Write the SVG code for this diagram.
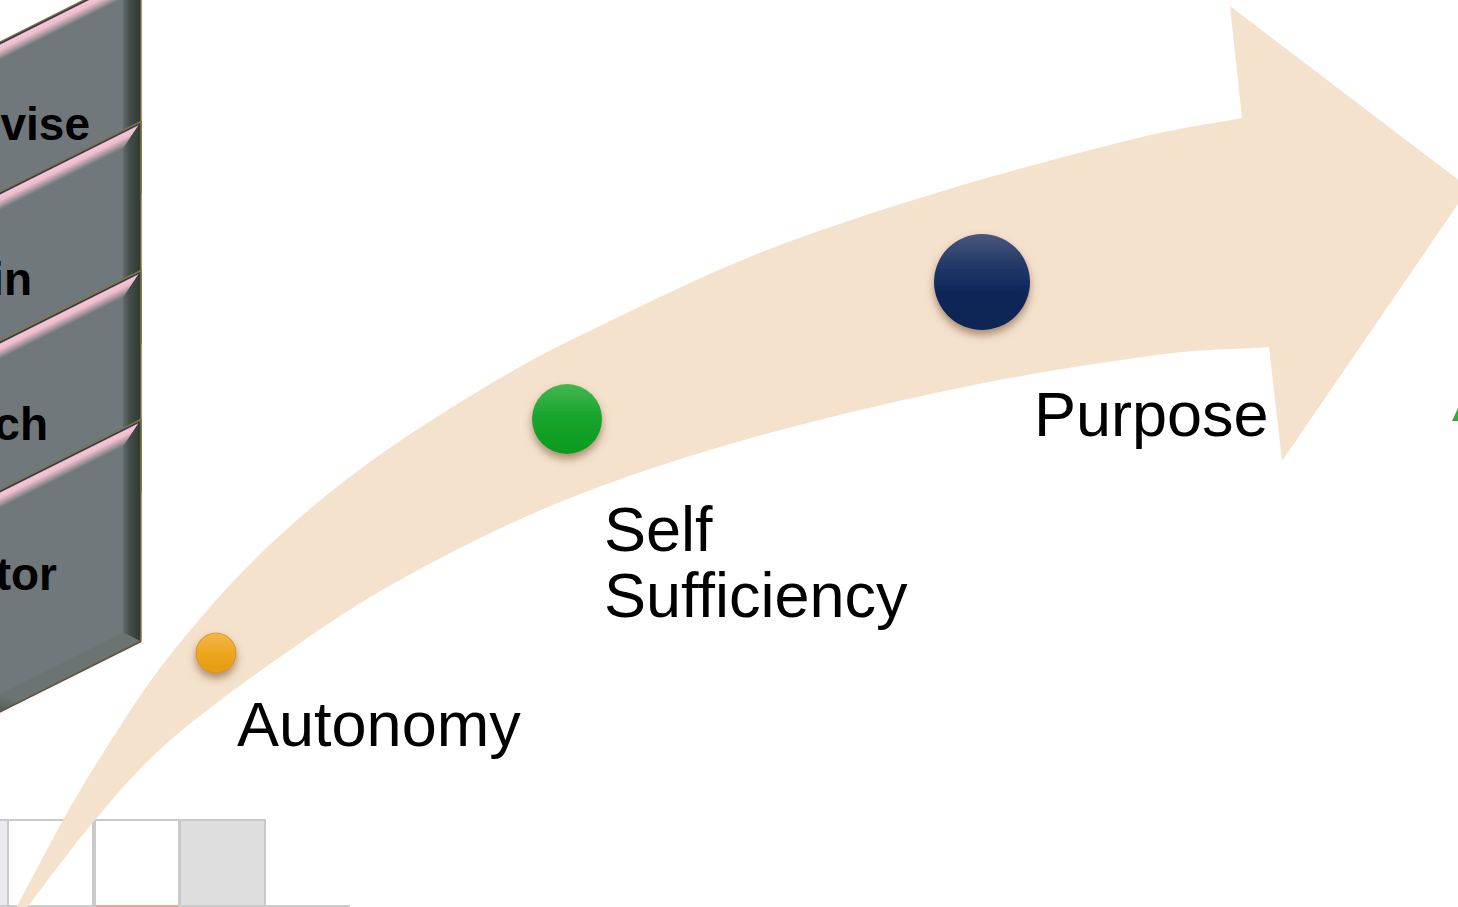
<svg xmlns="http://www.w3.org/2000/svg" width="1458" height="907" viewBox="0 0 1458 907">
  <defs>
    <style>
      .panel-label { font-family: "Liberation Sans", Arial, sans-serif; font-weight: bold; font-size: 46px; fill: #000; text-anchor: end; }
      .stage-label { font-family: "Liberation Sans", Arial, sans-serif; font-size: 63px; fill: #000; }
      .cell { stroke: #c9c9c9; stroke-width: 2; }
      .edge { fill: none; stroke: #86723f; stroke-width: 1.5; }
    </style>
    <!-- bevel shading for the slanted panels (local panel coordinates) -->
    <linearGradient id="bevelTop" gradientUnits="userSpaceOnUse" x1="0" y1="0" x2="7.2" y2="14.4">
      <stop offset="0" stop-color="#2b3553"/>
      <stop offset="0.1" stop-color="#2b3553"/>
      <stop offset="0.18" stop-color="#f7c4d4"/>
      <stop offset="0.45" stop-color="#efbccb"/>
      <stop offset="0.8" stop-color="#9c9399"/>
      <stop offset="1" stop-color="#71787c"/>
    </linearGradient>
    <linearGradient id="bevelRight" gradientUnits="userSpaceOnUse" x1="122" y1="0" x2="141" y2="0">
      <stop offset="0" stop-color="#667074"/>
      <stop offset="0.4" stop-color="#434e4a"/>
      <stop offset="1" stop-color="#2e3833"/>
    </linearGradient>
    <linearGradient id="bevelBottom" gradientUnits="userSpaceOnUse" x1="0" y1="204" x2="-7.2" y2="222">
      <stop offset="0" stop-color="#6a7472"/>
      <stop offset="1" stop-color="#4c5950"/>
    </linearGradient>
    <linearGradient id="navyFill" x1="0" y1="0" x2="0" y2="1">
      <stop offset="0" stop-color="#48577b"/>
      <stop offset="0.35" stop-color="#213767"/>
      <stop offset="0.6" stop-color="#0d2859"/>
      <stop offset="1" stop-color="#0a2555"/>
    </linearGradient>
    <linearGradient id="greenFill" x1="0" y1="0" x2="0" y2="1">
      <stop offset="0" stop-color="#46b552"/>
      <stop offset="0.45" stop-color="#19a52e"/>
      <stop offset="1" stop-color="#089a1e"/>
    </linearGradient>
    <linearGradient id="orangeFill" x1="0" y1="0" x2="0" y2="1">
      <stop offset="0" stop-color="#f2b64a"/>
      <stop offset="0.5" stop-color="#eea61e"/>
      <stop offset="1" stop-color="#e49b12"/>
    </linearGradient>
    <filter id="dotShadow" x="-40%" y="-40%" width="180%" height="190%">
      <feDropShadow dx="0" dy="5" stdDeviation="4" flood-color="#6b4526" flood-opacity="0.55"/>
    </filter>
    <!-- one slanted bevelled panel; top edge runs y = -0.5x -->
    <g id="panelShape">
      <polygon points="-400,200 141,-70.5 141,151.5 -400,422" fill="#71787c"/>
      <polygon points="-400,200 141,-70.5 123,-43.5 -400,218" fill="url(#bevelTop)"/>
      <polygon points="123,-43.5 141,-70.5 141,151.5 123,142.5" fill="url(#bevelRight)"/>
      <polygon points="-400,422 141,151.5 123,142.5 -400,404" fill="url(#bevelBottom)"/>
      <polyline class="edge" points="-400,200 141,-70.5 141,151.5"/>
      <line x1="-400" y1="422" x2="141" y2="151.5" stroke="#5e5432" stroke-width="1.5"/>
    </g>
  </defs>

  <rect width="1458" height="907" fill="#ffffff"/>

  <!-- stacked panels, each one overlapping the lower part of the one above -->
  <g id="panels">
    <g id="panel-1"><use href="#panelShape" transform="translate(0,42)"/><text class="panel-label" x="90" y="140">vise</text></g>
    <g id="panel-2"><use href="#panelShape" transform="translate(0,192)"/><text class="panel-label" x="32" y="295">in</text></g>
    <g id="panel-3"><use href="#panelShape" transform="translate(0,341)"/><text class="panel-label" x="48" y="440">ch</text></g>
    <g id="panel-4"><use href="#panelShape" transform="translate(0,490)"/><text class="panel-label" x="57" y="590">tor</text></g>
  </g>

  <!-- row of cells along the bottom -->
  <g id="cells">
    <rect class="cell" x="-4" y="820" width="12" height="90" fill="#e9ebee"/>
    <rect class="cell" x="8" y="820" width="85" height="90" fill="#ffffff"/>
    <rect class="cell" x="95" y="820" width="84" height="90" fill="#ffffff"/>
    <rect class="cell" x="180" y="820" width="85" height="90" fill="#dedede"/>
    <line x1="0" y1="906" x2="350" y2="906" stroke="#cccccc" stroke-width="2"/>
    <line x1="96" y1="906" x2="178" y2="906" stroke="#e6a898" stroke-width="2"/>
  </g>

  <!-- curved progress arrow -->
  <g id="connectors">
    <path id="progress-arrow" fill="#f5e2cd" d="M15,910
      C30.7,880.7 47,848.7 62,822
      C77,795.3 87.5,777.2 105,750
      C122.5,722.8 141.7,691.2 167,659
      C192.3,626.8 224.3,589 257,557
      C289.7,525 323,496.5 363,467
      C403,437.5 456.5,404 497,380
      C537.5,356 561.8,344.3 606,323
      C650.2,301.7 705.3,274.2 762,252
      C818.7,229.8 883.3,209 946,190
      C1008.7,171 1088.7,150 1138,138
      C1187.3,126 1207.3,124.7 1242,118
      L1230,6 L1469,188 L1282,461 L1269,347
      C1231.7,349.7 1207.8,348.3 1157,355
      C1106.2,361.7 1032.8,372.8 964,387
      C895.2,401.2 811.3,420.8 744,440
      C676.7,459.2 617.3,478.7 560,502
      C502.7,525.3 446.7,554.2 400,580
      C353.3,605.8 318.8,629.8 280,657
      C241.2,684.2 197.8,715.8 167,743
      C136.2,770.2 118.7,792.2 95,820
      C71.3,847.8 48.3,880 25,910 Z"/>
  </g>

  <g id="node-autonomy">
    <circle cx="216" cy="653" r="20" fill="url(#orangeFill)" stroke="#cf8f1c" stroke-width="0.8" filter="url(#dotShadow)"/>
    <text class="stage-label" x="237" y="746">Autonomy</text>
  </g>

  <g id="node-self-sufficiency">
    <circle cx="567" cy="419" r="35" fill="url(#greenFill)" filter="url(#dotShadow)"/>
    <text class="stage-label" x="604" y="551">Self</text>
    <text class="stage-label" x="604" y="617">Sufficiency</text>
  </g>

  <g id="node-purpose">
    <circle cx="982" cy="282" r="48" fill="url(#navyFill)" filter="url(#dotShadow)"/>
    <text class="stage-label" x="1034" y="436">Purpose</text>
  </g>

  <!-- tip of a shape entering from the right edge -->
  <polygon points="1458,408 1458,421 1452,421" fill="#3ca444"/>
</svg>
